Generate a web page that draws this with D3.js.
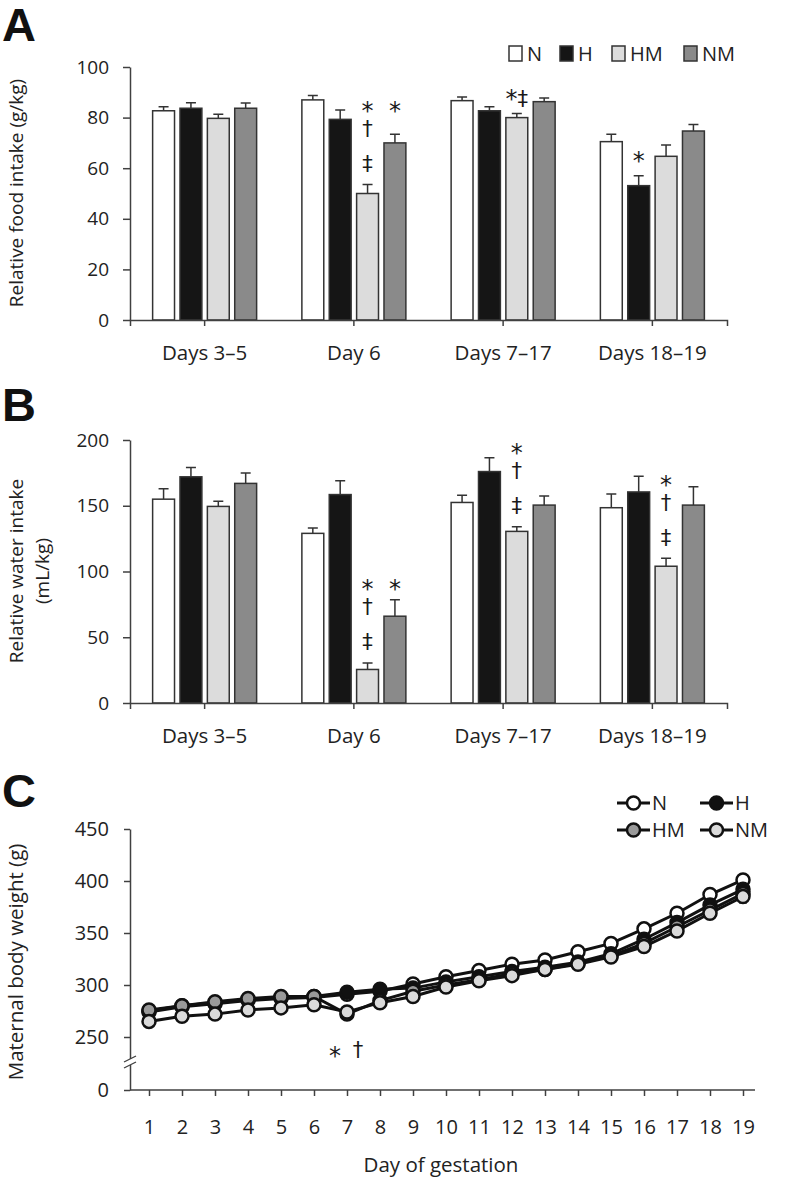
<!DOCTYPE html>
<html><head><meta charset="utf-8">
<script src="https://cdn.jsdelivr.net/npm/d3@7"></script>
<style>body{margin:0;background:#fff} svg{display:block}</style>
</head><body>
<svg id="chart" width="794" height="1177"></svg>
<script>
// ---------- DATA ----------
const categories = ["Days 3–5", "Day 6", "Days 7–17", "Days 18–19"];
const groups = ["N", "H", "HM", "NM"];

// Panel A: relative food intake (g/kg)
const foodN  = [82.7, 87.0, 86.7, 70.5];
const foodH  = [83.7, 79.3, 82.7, 53.1];
const foodHM = [79.7, 50.0, 80.0, 64.7];
const foodNM = [83.7, 70.0, 86.3, 74.7];
const foodErrN  = [1.6, 1.7, 1.4, 2.9];
const foodErrH  = [2.2, 3.7, 1.6, 3.9];
const foodErrHM = [1.6, 3.6, 1.6, 4.5];
const foodErrNM = [2.1, 3.4, 1.4, 2.6];
const foodTicks = [0, 20, 40, 60, 80, 100];
const foodMarks = [
  {cat: "Day 6", grp: "HM", rows: ["*", "†", "‡"]},
  {cat: "Day 6", grp: "NM", rows: ["*"]},
  {cat: "Days 7–17", grp: "HM", rows: ["*‡"]},
  {cat: "Days 18–19", grp: "H", rows: ["*"]}
];

// Panel B: relative water intake (mL/kg)
const waterN  = [155.0, 129.0, 152.5, 148.5];
const waterH  = [172.0, 158.5, 176.0, 160.5];
const waterHM = [149.5, 25.5, 130.5, 104.0];
const waterNM = [167.0, 66.0, 150.5, 150.5];
const waterErrN  = [8.0, 4.0, 5.5, 10.5];
const waterErrH  = [7.0, 10.5, 10.5, 12.0];
const waterErrHM = [4.0, 5.0, 3.5, 6.0];
const waterErrNM = [8.0, 12.5, 7.0, 14.0];
const waterTicks = [0, 50, 100, 150, 200];
const waterMarks = [
  {cat: "Day 6", grp: "HM", rows: ["*", "†", "‡"]},
  {cat: "Day 6", grp: "NM", rows: ["*"]},
  {cat: "Days 7–17", grp: "HM", rows: ["*", "†", "‡"]},
  {cat: "Days 18–19", grp: "HM", rows: ["*", "†", "‡"]}
];

// Panel C: maternal body weight (g)
const days = [1,2,3,4,5,6,7,8,9,10,11,12,13,14,15,16,17,18,19];
const weightN  = [274,279,282,285,287,288,291,294,301,308,314,320,324,332,340,354,369,387,401];
const weightH  = [275,280,283,286,288,289,293,296,297,303,308,313,317,322,330,344,360,377,392];
const weightHM = [276,280,284,287,289,289,272,285,294,300,305,311,315,321,328,340,356,372,388];
const weightNM = [265,270,272,276,278,281,274,283,289,298,304,309,315,320,327,337,352,369,385];
const weightErrN  = [3,3,3,3,3,3,3,3,3,3,3,3,3,3,3,4,4,5,5];
const weightErrH  = [3,3,3,3,3,3,3,3,3,3,3,3,3,4,4,4,5,5,6];
const weightErrHM = [3,3,4,3,4,3,5,4,3,3,3,3,3,4,4,4,4,5,6];
const weightErrNM = [3,3,3,3,3,3,4,3,3,3,3,3,3,3,4,4,4,5,6];
const weightTicks = [0, 250, 300, 350, 400, 450];
const weightMarks = [{day: 7, syms: ["*", "†"]}];

// ---------- STYLE ----------
const barFill = {N: "#ffffff", H: "#151515", HM: "#dcdcdc", NM: "#8a8a8a"};
const dotFill = {N: "#ffffff", H: "#111111", HM: "#9a9a9a", NM: "#dadada"};
const axisColor = "#404040";
const sans = "'Open Sans', 'DejaVu Sans', sans-serif";
const symFont = "'DejaVu Sans', sans-serif";
const svg = d3.select("#chart");

function styleAxis(g, fs) {
  g.selectAll("path, line").attr("stroke", axisColor).attr("stroke-width", 1.5);
  g.selectAll("text").attr("font-family", sans).attr("font-size", fs).attr("fill", "#222");
}

// draw a significance symbol visually centred on (x, cy)
function sym(g, s, x, cy) {
  const star = s.startsWith("*");
  const fs = star ? 24 : 21;
  const t = g.append("text").attr("x", x).attr("text-anchor", "middle")
    .attr("font-family", symFont).attr("font-size", fs).attr("fill", "#1a1a1a")
    .attr("y", cy + (star ? 0.55 : 0.3) * fs);
  if (s.length > 1) {
    t.append("tspan").attr("font-size", 24).text(s[0]);
    t.append("tspan").attr("font-size", 21).attr("dy", -1).text(s.slice(1));
  } else t.text(s);
}

// ---------- BAR PANELS ----------
function barPanel(cfg) {
  const x0 = d3.scaleBand().domain(categories).range([130, 727]);
  const x1 = d3.scaleBand().domain(groups).range([-52, 52]).paddingInner(0.2);
  const y = d3.scaleLinear().domain([0, cfg.max]).range([cfg.y0, cfg.yTop]);
  const g = svg.append("g");
  const rows = [];
  categories.forEach((c, i) => {
    groups.forEach(k => rows.push({cat: c, grp: k, v: cfg.vals[k][i], e: cfg.errs[k][i]}));
  });
  const cx = d => x0(d.cat) + x0.bandwidth() / 2 + x1(d.grp);

  g.selectAll(".eb").data(rows).join("path")
    .attr("d", d => {
      const xm = cx(d) + x1.bandwidth() / 2;
      return `M${xm},${y(d.v)}V${y(d.v + d.e)}M${xm - 5},${y(d.v + d.e)}H${xm + 5}`;
    })
    .attr("stroke", "#333").attr("stroke-width", 1.5).attr("fill", "none");

  g.selectAll(".bar").data(rows).join("rect")
    .attr("x", d => cx(d)).attr("width", x1.bandwidth())
    .attr("y", d => y(d.v)).attr("height", d => y(0) - y(d.v))
    .attr("fill", d => barFill[d.grp]).attr("stroke", "#333").attr("stroke-width", 1.5);

  const ya = g.append("g").attr("transform", "translate(130,0)")
    .call(d3.axisLeft(y).tickValues(cfg.ticks).tickSize(7).tickSizeOuter(0).tickPadding(14));
  styleAxis(ya, 19);
  const xa = g.append("g").attr("transform", `translate(0,${cfg.y0})`)
    .call(d3.axisBottom(x0).tickSize(6).tickSizeOuter(6).tickPadding(19));
  styleAxis(xa, 20.5);

  // significance symbols: rows aligned per category, stacked above the bar with most symbols
  const byCat = d3.group(cfg.marks, m => m.cat);
  byCat.forEach((list, cat) => {
    const i = categories.indexOf(cat);
    const lead = list.reduce((a, b) => (b.rows.length > a.rows.length ? b : a));
    const base = y(cfg.vals[lead.grp][i] + cfg.errs[lead.grp][i]) - 20;
    const offs = lead.rows.length === 3 ? [-59, -35, 0] : [0];
    list.forEach(m => {
      const xm = x0(cat) + x0.bandwidth() / 2 + x1(m.grp) + x1.bandwidth() / 2;
      m.rows.forEach((s, r) => sym(g, s, xm, base + offs[r]));
    });
  });
  return g;
}

barPanel({
  y0: 320, yTop: 67, max: 100, ticks: foodTicks,
  vals: {N: foodN, H: foodH, HM: foodHM, NM: foodNM},
  errs: {N: foodErrN, H: foodErrH, HM: foodErrHM, NM: foodErrNM},
  marks: foodMarks
});
barPanel({
  y0: 703, yTop: 440, max: 200, ticks: waterTicks,
  vals: {N: waterN, H: waterH, HM: waterHM, NM: waterNM},
  errs: {N: waterErrN, H: waterErrH, HM: waterErrHM, NM: waterErrNM},
  marks: waterMarks
});

// Panel titles
[["A", 41], ["B", 421], ["C", 807]].forEach(([t, yy]) => {
  svg.append("text").attr("x", 2).attr("y", yy).text(t)
    .attr("font-family", "'Liberation Sans', Arial, sans-serif")
    .attr("font-weight", "bold").attr("font-size", 47).attr("fill", "#111");
});

// Y axis titles
function vTitle(text, cx, cy, fs) {
  svg.append("text").attr("transform", `translate(${cx},${cy}) rotate(-90)`)
    .attr("text-anchor", "middle").attr("dy", "0.35em")
    .attr("font-family", sans).attr("font-size", fs).attr("fill", "#222").text(text);
}
vTitle("Relative food intake (g/kg)", 16, 193, 19);
vTitle("Relative water intake", 16, 571, 19);
vTitle("(mL/kg)", 42, 571, 19);
vTitle("Maternal body weight (g)", 16, 962, 20.5);

// Legend A
const legAx = [509, 560, 612, 684];
groups.forEach((k, i) => {
  svg.append("rect").attr("x", legAx[i]).attr("y", 46).attr("width", 13).attr("height", 15)
    .attr("fill", barFill[k]).attr("stroke", "#333").attr("stroke-width", 1.5);
  svg.append("text").attr("x", legAx[i] + 18).attr("y", 54).attr("dy", "0.36em")
    .attr("font-family", sans).attr("font-size", 20).attr("fill", "#222").text(k);
});

// ---------- PANEL C ----------
const xC = d3.scalePoint().domain(days).range([149, 743]);
const yC = d3.scaleLinear().domain([0, 250, 450]).range([1090, 1037, 829]);
const gC = svg.append("g");
const seriesC = [
  {k: "N", v: weightN, e: weightErrN},
  {k: "H", v: weightH, e: weightErrH},
  {k: "HM", v: weightHM, e: weightErrHM},
  {k: "NM", v: weightNM, e: weightErrNM}
];
const line = d3.line().x((d, i) => xC(days[i])).y(d => yC(d));
seriesC.forEach(s => {
  gC.append("g").selectAll("path").data(s.v).join("path")
    .attr("d", (d, i) => {
      const x = xC(days[i]), a = yC(d + s.e[i]), b = yC(d - s.e[i]);
      return `M${x},${a}V${b}M${x - 4},${a}H${x + 4}M${x - 4},${b}H${x + 4}`;
    })
    .attr("stroke", "#222").attr("stroke-width", 1.5).attr("fill", "none");
});
seriesC.forEach(s => {
  gC.append("path").attr("d", line(s.v)).attr("fill", "none")
    .attr("stroke", "#111").attr("stroke-width", 3);
});
seriesC.forEach(s => {
  gC.append("g").selectAll("circle").data(s.v).join("circle")
    .attr("cx", (d, i) => xC(days[i])).attr("cy", d => yC(d)).attr("r", 6.5)
    .attr("fill", dotFill[s.k]).attr("stroke", "#111").attr("stroke-width", 2.5);
});

const yaC = gC.append("g").attr("transform", "translate(130,0)")
  .call(d3.axisLeft(yC).tickValues(weightTicks).tickSize(6).tickSizeOuter(0).tickPadding(15));
styleAxis(yaC, 20);
const xaC = gC.append("g").attr("transform", "translate(0,1090)")
  .call(d3.axisBottom(xC).tickSize(6).tickSizeOuter(0).tickPadding(24));
styleAxis(xaC, 20);
xaC.select(".domain").attr("d", "M130,0H755");

// axis break
gC.append("rect").attr("x", 125).attr("y", 1059).attr("width", 10).attr("height", 6).attr("fill", "#fff");
[1058, 1064].forEach(yy => {
  gC.append("line").attr("x1", 124).attr("x2", 136).attr("y1", yy + 4).attr("y2", yy - 2)
    .attr("stroke", axisColor).attr("stroke-width", 1.3);
});

// significance marks C
weightMarks.forEach(m => {
  const i = days.indexOf(m.day);
  const cy = yC(d3.min(seriesC, s => s.v[i] - s.e[i])) + 31;
  m.syms.forEach((s, j) => sym(gC, s, xC(m.day) + (j === 0 ? -12 : 11), cy));
});

svg.append("text").attr("x", 441).attr("y", 1165).attr("text-anchor", "middle").attr("dy", "0.35em")
  .attr("font-family", sans).attr("font-size", 20.5).attr("fill", "#222").text("Day of gestation");

// Legend C
const legC = [
  {k: "N", x: 617, y: 803}, {k: "H", x: 700, y: 803},
  {k: "HM", x: 617, y: 830}, {k: "NM", x: 700, y: 830}
];
legC.forEach(l => {
  svg.append("line").attr("x1", l.x).attr("x2", l.x + 33).attr("y1", l.y).attr("y2", l.y)
    .attr("stroke", "#111").attr("stroke-width", 3);
  svg.append("circle").attr("cx", l.x + 16.5).attr("cy", l.y).attr("r", 6.5)
    .attr("fill", dotFill[l.k]).attr("stroke", "#111").attr("stroke-width", 2.5);
  svg.append("text").attr("x", l.x + 35).attr("y", l.y).attr("dy", "0.36em")
    .attr("font-family", sans).attr("font-size", 20).attr("fill", "#222").text(l.k);
});
</script>
</body></html>
